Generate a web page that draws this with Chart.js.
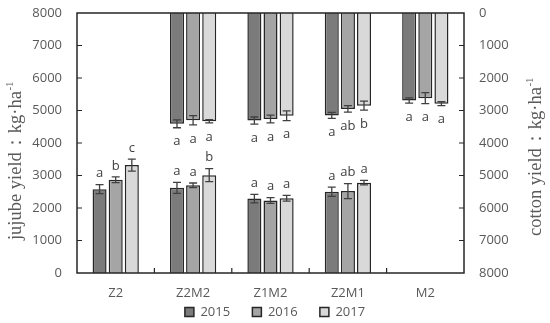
<!DOCTYPE html>
<html>
<head>
<meta charset="utf-8">
<script src="https://cdn.jsdelivr.net/npm/chart.js@4.4.0/dist/chart.umd.min.js"></script>
<style>
  html, body { margin: 0; padding: 0; background: #fff; }
  #wrap { width: 550px; height: 323px; }
</style>
</head>
<body>
<div id="wrap"><canvas id="yieldChart"></canvas></div>
<script>
const categories = ['Z2', 'Z2M2', 'Z1M2', 'Z2M1', 'M2'];
const years = ['2015', '2016', '2017'];

// jujube yield (left axis)
const jujube2015 = [2580, 2620, 2290, 2500, null];
const jujube2016 = [2870, 2700, 2230, 2520, null];
const jujube2017 = [3320, 3010, 2300, 2780, null];
const jujubeErr2015 = [140, 170, 130, 140, null];
const jujubeErr2016 = [90, 70, 90, 230, null];
const jujubeErr2017 = [185, 200, 90, 70, null];
const jujubeLetters2015 = ['a', 'a', 'a', 'a', ''];
const jujubeLetters2016 = ['b', 'a', 'a', 'ab', ''];
const jujubeLetters2017 = ['c', 'b', 'a', 'a', ''];

// cotton yield (right axis, reversed)
const cotton2015 = [null, 3410, 3310, 3150, 2690];
const cotton2016 = [null, 3300, 3260, 2950, 2620];
const cotton2017 = [null, 3330, 3160, 2850, 2790];
const cottonErr2015 = [null, 120, 110, 90, 80];
const cottonErr2016 = [null, 140, 120, 100, 170];
const cottonErr2017 = [null, 50, 150, 140, 60];
const cottonLetters2015 = ['', 'a', 'a', 'a', 'a'];
const cottonLetters2016 = ['', 'a', 'a', 'ab', 'a'];
const cottonLetters2017 = ['', 'a', 'a', 'b', 'a'];

const fills = ['#7b7b7b', '#a5a5a5', '#d9d9d9'];
const textGray = '#595959';
const sansFont = 'Open Sans';

function makeSet(label, data, errors, letters, axis, i) {
    return {
        label: label,
        data: data,
        errors: errors,
        letters: letters,
        yAxisID: axis,
        stack: years[i],
        backgroundColor: fills[i],
        borderColor: '#262626',
        borderWidth: 1.5,
        barPercentage: 0.87,
        categoryPercentage: 0.625
    };
}

const datasets = [
    makeSet('2015', jujube2015, jujubeErr2015, jujubeLetters2015, 'y', 0),
    makeSet('2016', jujube2016, jujubeErr2016, jujubeLetters2016, 'y', 1),
    makeSet('2017', jujube2017, jujubeErr2017, jujubeLetters2017, 'y', 2),
    makeSet('2015 cotton', cotton2015, cottonErr2015, cottonLetters2015, 'y1', 0),
    makeSet('2016 cotton', cotton2016, cottonErr2016, cottonLetters2016, 'y1', 1),
    makeSet('2017 cotton', cotton2017, cottonErr2017, cottonLetters2017, 'y1', 2)
];

// error bars + significance letters
const errorBars = {
    id: 'errorBars',
    afterDatasetsDraw(chart) {
        const ctx = chart.ctx;
        ctx.save();
        chart.data.datasets.forEach((ds, i) => {
            const meta = chart.getDatasetMeta(i);
            const scale = chart.scales[ds.yAxisID];
            meta.data.forEach((bar, j) => {
                const v = ds.data[j];
                if (v === null) return;
                const e = ds.errors[j];
                const yHi = scale.getPixelForValue(v + e);
                const yLo = scale.getPixelForValue(v - e);
                ctx.strokeStyle = '#404040';
                ctx.lineWidth = 1.3;
                ctx.beginPath();
                ctx.moveTo(bar.x, yHi); ctx.lineTo(bar.x, yLo);
                ctx.moveTo(bar.x - 4, yHi); ctx.lineTo(bar.x + 4, yHi);
                ctx.moveTo(bar.x - 4, yLo); ctx.lineTo(bar.x + 4, yLo);
                ctx.stroke();

                ctx.fillStyle = '#404040';
                ctx.font = '13px "' + sansFont + '"';
                ctx.textAlign = 'center';
                ctx.textBaseline = 'middle';
                const ly = ds.yAxisID === 'y' ? yHi - 11 : yHi + 14;
                ctx.fillText(ds.letters[j], bar.x, ly);
            });
        });
        ctx.restore();
    }
};

// frame, inward ticks, axis titles
const frame = {
    id: 'frame',
    afterDraw(chart) {
        const ctx = chart.ctx;
        const a = chart.chartArea;
        const x = chart.scales.x, y = chart.scales.y, y1 = chart.scales.y1;
        ctx.save();
        ctx.strokeStyle = '#262626';
        ctx.lineWidth = 1.5;
        ctx.strokeRect(a.left, a.top, a.right - a.left, a.bottom - a.top);

        ctx.lineWidth = 1.2;
        ctx.beginPath();
        for (let i = 0; i < categories.length - 1; i++) {
            const bx = (x.getPixelForValue(i) + x.getPixelForValue(i + 1)) / 2;
            ctx.moveTo(bx, a.bottom); ctx.lineTo(bx, a.bottom - 5);
        }
        for (let v = 1000; v < 8000; v += 1000) {
            const py = y.getPixelForValue(v);
            ctx.moveTo(a.left, py); ctx.lineTo(a.left + 5, py);
            const py1 = y1.getPixelForValue(v);
            ctx.moveTo(a.right, py1); ctx.lineTo(a.right - 5, py1);
        }
        ctx.stroke();

        drawTitle(ctx, 'jujube yield：kg·ha', 16, 161);
        drawTitle(ctx, 'cotton yield：kg·ha', 536, 157);
        ctx.restore();
    }
};

function drawTitle(ctx, text, cx, cy) {
    const mainFont = '18.5px "Liberation Serif"';
    const supFont = '11px "Liberation Serif"';
    ctx.save();
    ctx.translate(cx, cy);
    ctx.rotate(-Math.PI / 2);
    ctx.fillStyle = textGray;
    ctx.textBaseline = 'middle';
    ctx.textAlign = 'left';
    ctx.font = mainFont;
    const w1 = ctx.measureText(text).width;
    ctx.font = supFont;
    const w2 = ctx.measureText('-1').width;
    const start = -(w1 + w2) / 2;
    ctx.font = mainFont;
    ctx.fillText(text, start, 0);
    ctx.font = supFont;
    ctx.fillText('-1', start + w1 + 0.5, -6);
    ctx.restore();
}

const tickFont = { family: sansFont, size: 13 };
const plainTick = v => String(v);
const fixWidth = w => s => { s.width = w; s.paddingTop = 0; s.paddingBottom = 0; };

new Chart(document.getElementById('yieldChart'), {
    type: 'bar',
    data: { labels: categories, datasets: datasets },
    options: {
        responsive: true,
        maintainAspectRatio: false,
        animation: false,
        devicePixelRatio: 1,
        layout: { padding: { top: 13, left: 0, right: 0, bottom: -5.5 } },
        plugins: {
            tooltip: { enabled: false },
            legend: {
                position: 'bottom',
                labels: {
                    boxWidth: 9,
                    boxHeight: 9,
                    padding: 2,
                    color: textGray,
                    font: tickFont,
                    filter: item => item.datasetIndex < 3,
                    generateLabels(chart) {
                        const items = Chart.defaults.plugins.legend.labels.generateLabels(chart);
                        items.forEach(it => {
                            // widen the gap between legend entries
                            if (it.datasetIndex < 2) it.text = it.text + '      ';
                        });
                        return items;
                    }
                }
            }
        },
        scales: {
            x: {
                grid: { display: false, drawTicks: false },
                border: { display: false },
                ticks: { color: textGray, font: tickFont, padding: 12 },
                afterFit(s) { s.height = 30.5; s.paddingLeft = 0; s.paddingRight = 0; }
            },
            y: {
                position: 'left',
                min: 0,
                max: 8000,
                grid: { display: false, drawTicks: false },
                border: { display: false },
                ticks: { stepSize: 1000, color: textGray, font: tickFont, padding: 15, callback: plainTick },
                afterFit: fixWidth(77)
            },
            y1: {
                position: 'right',
                reverse: true,
                min: 0,
                max: 8000,
                grid: { display: false, drawTicks: false },
                border: { display: false },
                ticks: { stepSize: 1000, color: textGray, font: tickFont, padding: 15, callback: plainTick },
                afterFit: fixWidth(86)
            }
        }
    },
    plugins: [errorBars, frame]
});
</script>
</body>
</html>
